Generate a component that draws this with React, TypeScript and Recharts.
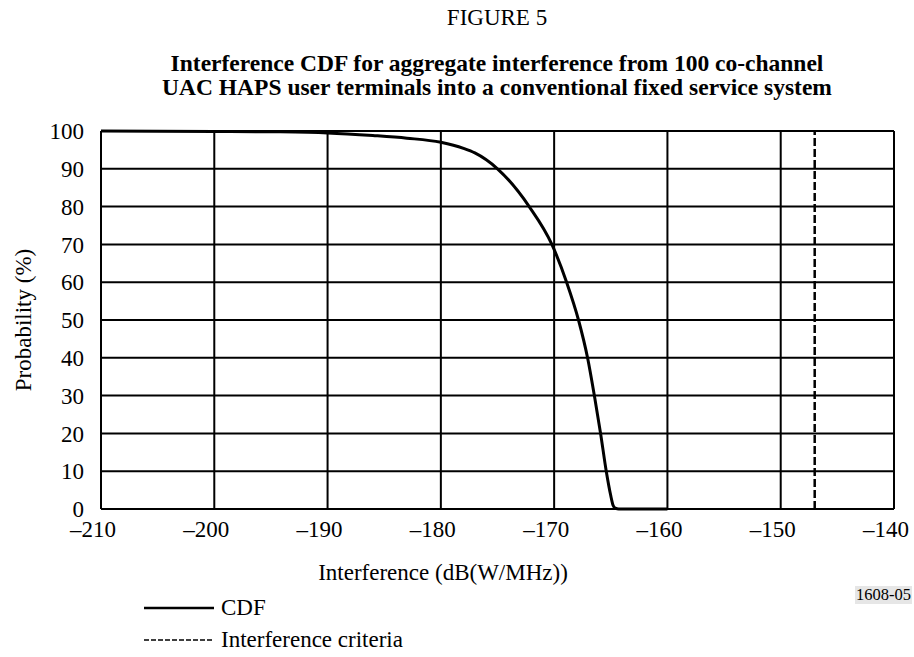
import {
  LineChart,
  Line,
  XAxis,
  YAxis,
  CartesianGrid,
  ReferenceLine,
} from "recharts";

// Interference (dB(W/MHz)) vs cumulative probability (%)
const interference = [
  -210, -200, -195, -190, -186, -183, -180, -178, -177, -175, -172.2, -170.2,
  -168.9, -167.85, -167.05, -166.45, -165.9, -165.4, -165, -164.8, -164.6,
  -164.3, -162, -160,
];
const cdf = [
  100, 99.9, 99.8, 99.5, 98.8, 98.1, 97, 95.4, 94.2, 90, 80, 70, 60, 50, 40,
  30, 20, 10, 3.5, 1, 0.2, 0, 0, 0,
];
const criteria = -147;

const xTicks = [-210, -200, -190, -180, -170, -160, -150, -140];
const yTicks = [0, 10, 20, 30, 40, 50, 60, 70, 80, 90, 100];

const rows = interference.map((x, i) => ({ x, cdf: cdf[i] }));

const FONT = '"Liberation Serif", "Times New Roman", serif';
const FS = 23;

const XTick = (props: any) => {
  const { x, y, payload } = props;
  return (
    <text
      x={x - 8}
      y={y}
      dy="0.71em"
      textAnchor="middle"
      fontSize={FS}
      fontFamily={FONT}
      fill="#000"
    >
      {String(payload.value).replace("-", "\u2013")}
    </text>
  );
};

const legendRow = (top: number, dashed: boolean, label: string) => (
  <div style={{ position: "absolute", left: 0, top, height: 24 }}>
    <svg
      width={70}
      height={6}
      style={{ position: "absolute", left: 144, top: 9 }}
    >
      <line
        x1={0}
        y1={3}
        x2={70}
        y2={3}
        stroke="#000"
        strokeWidth={dashed ? 1.5 : 2.5}
        strokeDasharray={dashed ? "5 2" : undefined}
      />
    </svg>
    <span
      style={{
        position: "absolute",
        left: 221,
        top: 0,
        whiteSpace: "nowrap",
        lineHeight: "24px",
      }}
    >
      {label}
    </span>
  </div>
);

export default function App() {
  return (
    <div
      style={{
        position: "absolute",
        left: 0,
        top: 0,
        width: 914,
        height: 657,
        overflow: "hidden",
        background: "#fff",
        fontFamily: FONT,
        fontSize: FS,
        color: "#000",
      }}
    >
      <div
        style={{
          position: "absolute",
          left: 0,
          width: 994,
          top: 6,
          textAlign: "center",
          lineHeight: "24px",
        }}
      >
        FIGURE 5
      </div>
      <div
        style={{
          position: "absolute",
          left: 0,
          width: 994,
          top: 51,
          textAlign: "center",
          fontSize: 23.5,
          fontWeight: "bold",
          lineHeight: "24px",
          whiteSpace: "nowrap",
        }}
      >
        Interference CDF for aggregate interference from 100 co-channel
        <br />
        UAC HAPS user terminals into a conventional fixed service system
      </div>

      <LineChart
        width={914}
        height={657}
        data={rows}
        margin={{ top: 131, right: 20, left: 41, bottom: 118 }}
      >
        <CartesianGrid stroke="#000" strokeWidth={2} />
        <XAxis
          type="number"
          dataKey="x"
          domain={[-210, -140]}
          ticks={xTicks}
          height={30}
          tick={<XTick />}
          tickLine={false}
          axisLine={false}
          tickSize={0}
          tickMargin={12}
          interval={0}
        />
        <YAxis
          type="number"
          domain={[0, 100]}
          ticks={yTicks}
          width={60}
          tickLine={false}
          axisLine={false}
          tickSize={0}
          tickMargin={17}
          interval={0}
          tick={{ fontSize: FS, fontFamily: FONT, fill: "#000" }}
        />
        <ReferenceLine
          x={criteria}
          stroke="#000"
          strokeWidth={2.5}
          strokeDasharray="8 3"
        />
        <Line
          type="monotone"
          dataKey="cdf"
          stroke="#000"
          strokeWidth={3}
          dot={false}
          isAnimationActive={false}
        />
      </LineChart>

      <div
        style={{
          position: "absolute",
          left: 24,
          top: 320,
          transform: "translate(-50%, -50%) rotate(-90deg)",
          whiteSpace: "nowrap",
          lineHeight: "24px",
        }}
      >
        Probability (%)
      </div>

      <div
        style={{
          position: "absolute",
          left: 0,
          width: 886,
          top: 561,
          textAlign: "center",
          lineHeight: "24px",
        }}
      >
        Interference (dB(W/MHz))
      </div>

      {legendRow(596, false, "CDF")}
      {legendRow(628, true, "Interference criteria")}

      <div
        style={{
          position: "absolute",
          left: 855,
          top: 586,
          fontSize: 16.5,
          lineHeight: "18px",
          background: "#e6e6e6",
          padding: "0 1px",
        }}
      >
        1608-05
      </div>
    </div>
  );
}
